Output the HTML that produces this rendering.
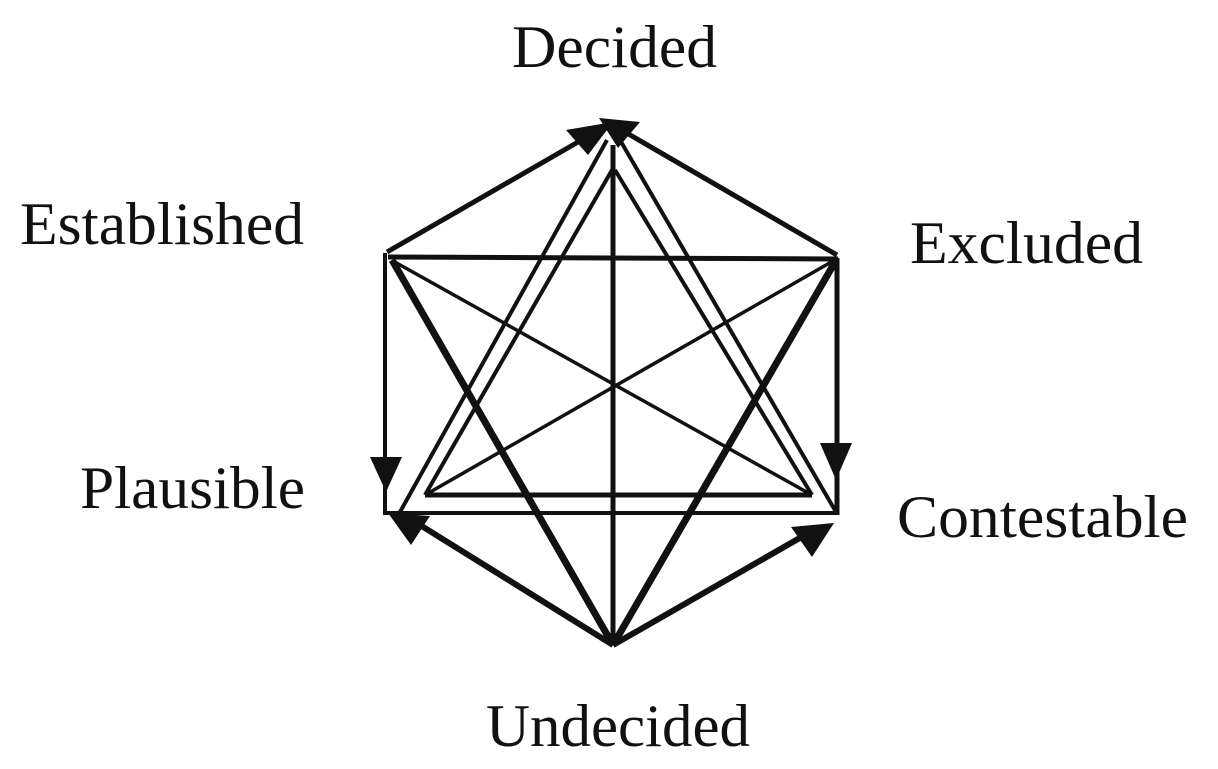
<!DOCTYPE html>
<html><head><meta charset="utf-8"><style>html,body{margin:0;padding:0;background:#fff}svg{display:block}</style></head>
<body>
<svg width="1218" height="769" viewBox="0 0 1218 769" xmlns="http://www.w3.org/2000/svg">
<g font-family="Liberation Serif, serif" font-size="60" fill="#111">
<text x="512" y="67" textLength="205" lengthAdjust="spacingAndGlyphs">Decided</text>
<text x="20" y="244" textLength="284" lengthAdjust="spacingAndGlyphs">Established</text>
<text x="910" y="263" textLength="233" lengthAdjust="spacingAndGlyphs">Excluded</text>
<text x="80" y="508" textLength="225" lengthAdjust="spacingAndGlyphs">Plausible</text>
<text x="897" y="537" textLength="291" lengthAdjust="spacingAndGlyphs">Contestable</text>
<text x="486" y="746" textLength="264" lengthAdjust="spacingAndGlyphs">Undecided</text>
</g>
<g stroke="#111" fill="none" stroke-linecap="butt">
<line x1="387" y1="252" x2="585" y2="138" stroke-width="5"/>
<line x1="625" y1="132" x2="837" y2="255" stroke-width="5"/>
<line x1="388" y1="257" x2="838" y2="259" stroke-width="5"/>
<line x1="385" y1="253" x2="385" y2="515" stroke-width="4"/>
<line x1="837" y1="258" x2="837" y2="515" stroke-width="5"/>
<line x1="384" y1="513" x2="838" y2="513" stroke-width="4"/>
<line x1="425" y1="495" x2="812" y2="495" stroke-width="5"/>
<line x1="613" y1="145" x2="613" y2="645" stroke-width="5"/>
<line x1="392" y1="260" x2="613" y2="645" stroke-width="7"/>
<line x1="835" y1="262" x2="613" y2="645" stroke-width="7"/>
<line x1="393" y1="261" x2="812" y2="495" stroke-width="3.5"/>
<line x1="833" y1="261" x2="425" y2="495" stroke-width="3.5"/>
<line x1="607" y1="140" x2="400" y2="512" stroke-width="4"/>
<line x1="612" y1="170" x2="425" y2="495" stroke-width="4"/>
<line x1="620" y1="140" x2="836" y2="512" stroke-width="4"/>
<line x1="615" y1="170" x2="812" y2="495" stroke-width="4"/>
<line x1="613" y1="645" x2="420" y2="525" stroke-width="6"/>
<line x1="613" y1="645" x2="805" y2="535" stroke-width="6"/>
</g>
<g fill="#111">
<polygon points="613,122 566,130 588,155"/>
<polygon points="599,118 640,122 618,148"/>
<polygon points="370,457 402,457 386,492"/>
<polygon points="820,443 852,443 836,480"/>
<polygon points="388,513 430,516 411,545"/>
<polygon points="834,523 791,527 812,557"/>
</g>
</svg>
</body></html>
